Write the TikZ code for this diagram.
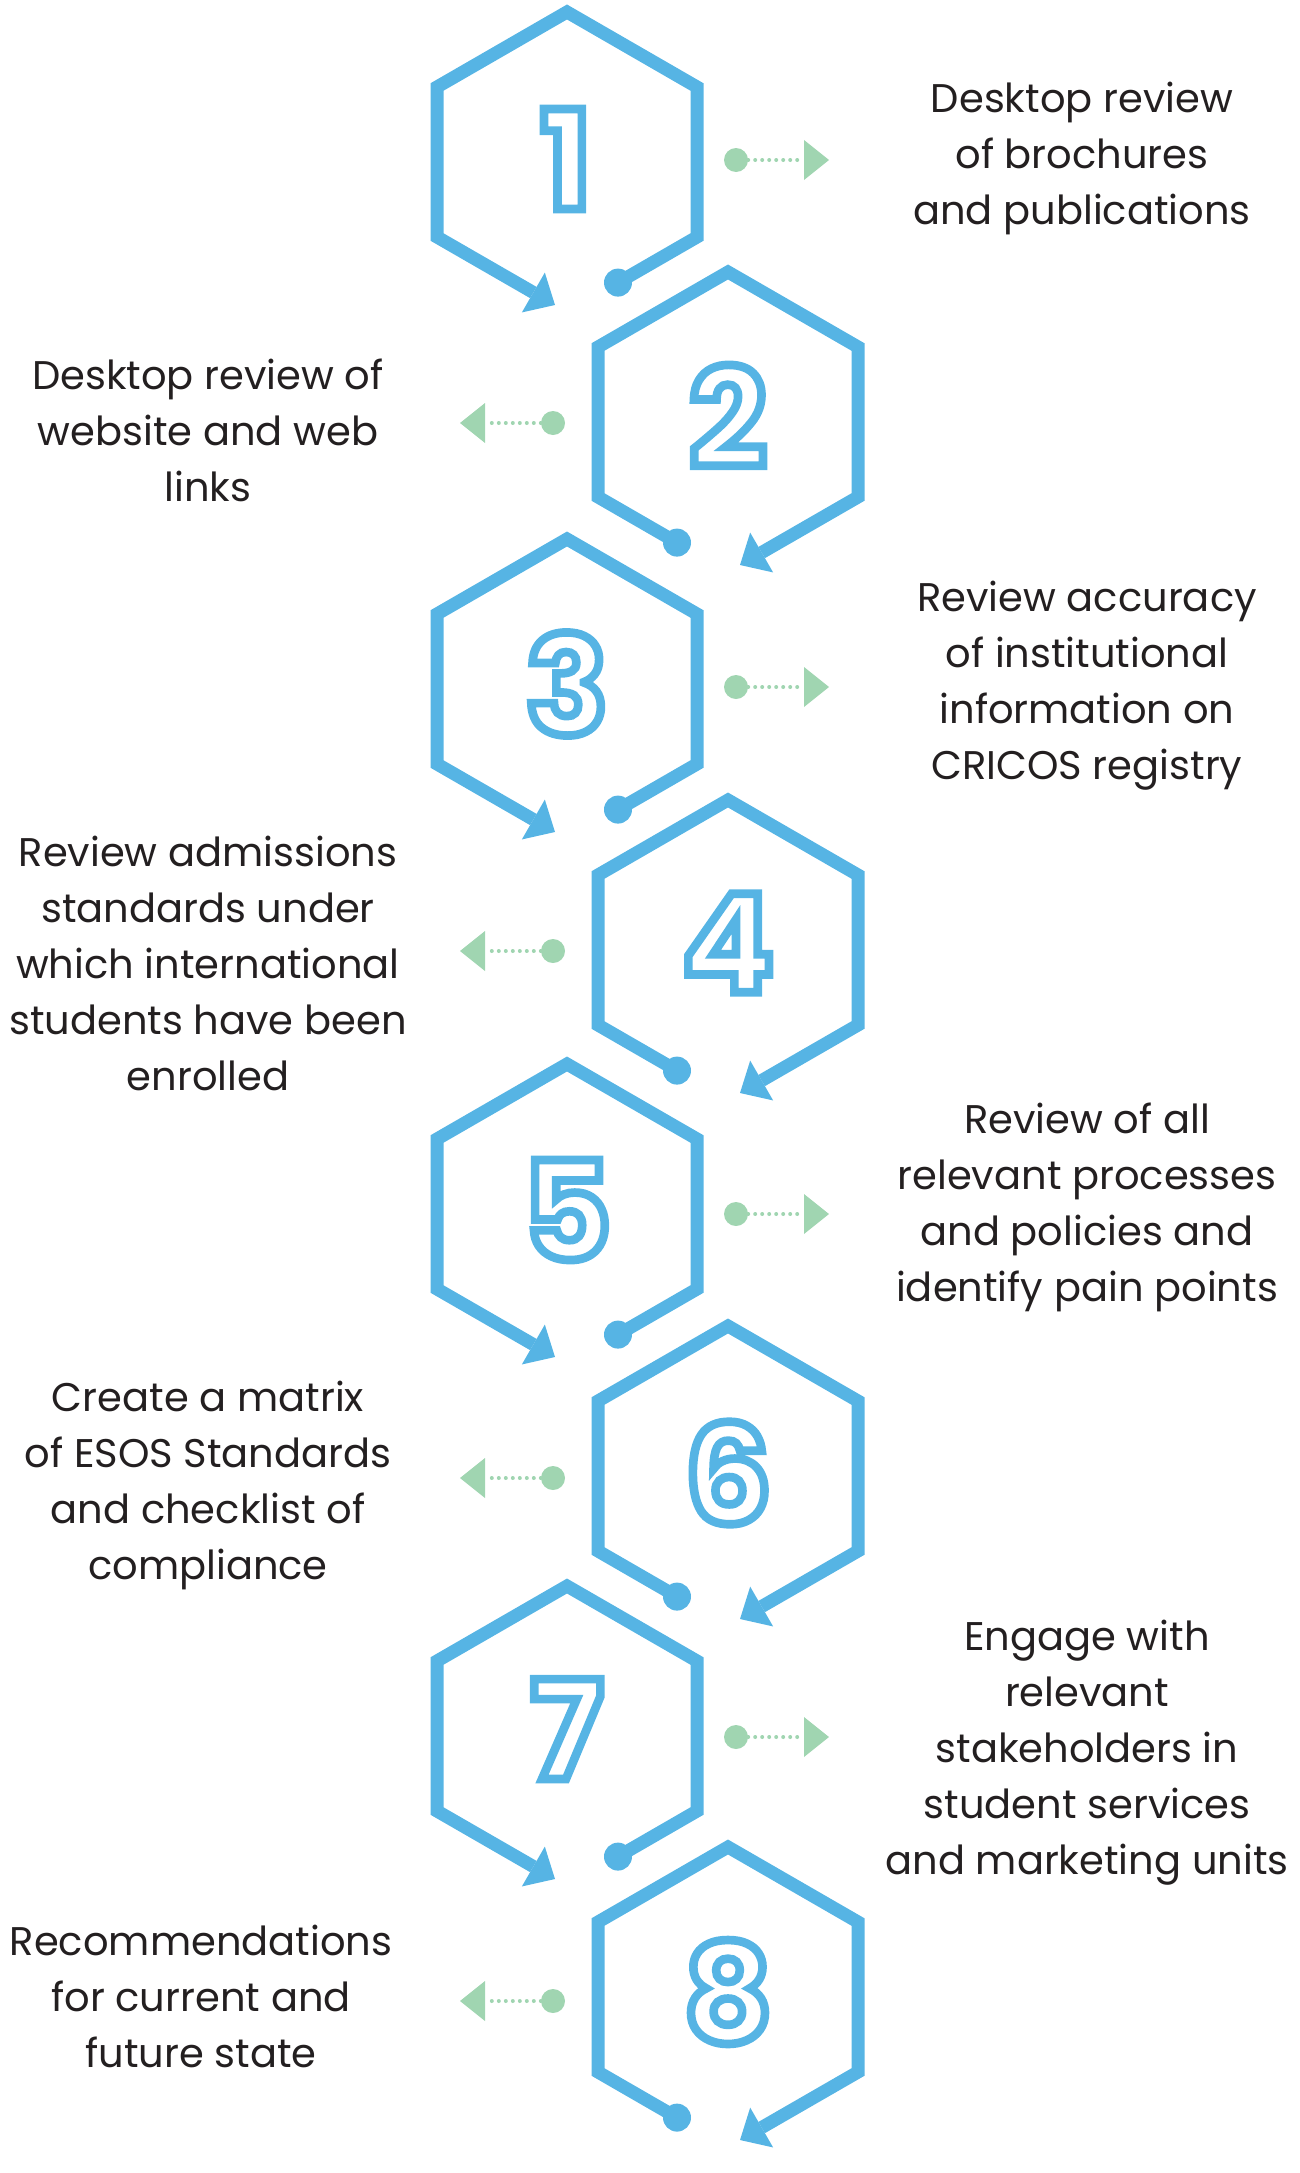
\documentclass[tikz,border=0pt]{standalone}
\usepackage{fontspec}
\setmainfont{Poppins}
\newfontfamily\digitfont{Poppins}[BoldFeatures={FakeBold=6.3}]
\usetikzlibrary{arrows.meta}
\definecolor{hexblue}{HTML}{56B4E4}
\definecolor{stepgreen}{HTML}{A0D5B1}
\definecolor{textdark}{HTML}{231F20}
% blue stroke round the white digits
\newcommand\outlinedigit[1]{\special{pdf:literal direct 0.337 0.706 0.894 RG}#1}

\tikzset{
  hexline/.style={draw=hexblue, line width=13pt, -{Triangle[length=25pt,width=46pt,line width=0pt]}},
  stephex/.pic={
    \draw[hexline] (51,120.6) -- (130,75) -- (130,-75) -- (0,-150) -- (-130,-75) -- (-130,75) -- (-12,143);
    \fill[hexblue] (51,120.6) circle (14);
  },
  numlabel/.style={inner sep=0pt, text=white, font=\digitfont\bfseries\fontsize{137}{137}\selectfont},
  steptext/.style={inner sep=0pt, align=center, text=textdark, font=\fontsize{40}{56}\selectfont},
  greendot/.style={circle, fill=stepgreen, minimum size=24pt, inner sep=0pt},
  greenarrow/.style={draw=stepgreen, line width=4pt, line cap=round, dash pattern=on 0pt off 7pt, -{Triangle[length=25pt,width=40pt,line width=0pt]}}
}

\begin{document}
\begin{tikzpicture}[x=1pt,y=-1pt]
    \useasboundingbox (0,0) rectangle (1300,2173); % Fixes the page size...

    \pic at (567,162) {stephex};
    \pic[xscale=-1] at (728,422) {stephex};
    \pic at (567,689) {stephex};
    \pic[xscale=-1] at (728,950) {stephex};
    \pic at (567,1214) {stephex};
    \pic[xscale=-1] at (728,1476) {stephex};
    \pic at (567,1736) {stephex};
    \pic[xscale=-1] at (728,1997) {stephex};

    \node[numlabel] (n1) at (566,159) {\outlinedigit{1}};
    \node[numlabel] (n2) at (728,416) {\outlinedigit{2}};
    \node[numlabel] (n3) at (567,684) {\outlinedigit{3}};
    \node[numlabel] (n4) at (728,943) {\outlinedigit{4}};
    \node[numlabel] (n5) at (567,1210) {\outlinedigit{5}};
    \node[numlabel] (n6) at (728,1473) {\outlinedigit{6}};
    \node[numlabel] (n7) at (567,1729) {\outlinedigit{7}};
    \node[numlabel] (n8) at (728,1992) {\outlinedigit{8}};

    \node[greendot] (g1) at (736,160) {};
    \node[greendot] (g2) at (553,423) {};
    \node[greendot] (g3) at (736,687) {};
    \node[greendot] (g4) at (553,951) {};
    \node[greendot] (g5) at (736,1214) {};
    \node[greendot] (g6) at (553,1478) {};
    \node[greendot] (g7) at (736,1737) {};
    \node[greendot] (g8) at (553,2001) {};
    \coordinate (a1) at (829,160);
    \coordinate (a2) at (460,423);
    \coordinate (a3) at (829,687);
    \coordinate (a4) at (460,951);
    \coordinate (a5) at (829,1214);
    \coordinate (a6) at (460,1478);
    \coordinate (a7) at (829,1737);
    \coordinate (a8) at (460,2001);
    \draw[greenarrow] (g1) -- (a1);
    \draw[greenarrow] (g2) -- (a2);
    \draw[greenarrow] (g3) -- (a3);
    \draw[greenarrow] (g4) -- (a4);
    \draw[greenarrow] (g5) -- (a5);
    \draw[greenarrow] (g6) -- (a6);
    \draw[greenarrow] (g7) -- (a7);
    \draw[greenarrow] (g8) -- (a8);

    \node[steptext] (t1) at (1082,158) {Desktop review\\of brochures\\and publications};
    \node[steptext] (t2) at (208,430) {Desktop review of\\website and web\\links};
    \node[steptext] (t3) at (1087,686) {Review accuracy\\of institutional\\information on\\CRICOS registry};
    \node[steptext] (t4) at (208,963) {Review admissions\\standards under\\which international\\students have been\\enrolled};
    \node[steptext] (t5) at (1087,1207) {Review of all\\relevant processes\\and policies and\\identify pain points};
    \node[steptext] (t6) at (208,1485) {Create a matrix\\of ESOS Standards\\and checklist of\\compliance};
    \node[steptext] (t7) at (1087,1753) {Engage with\\relevant\\stakeholders in\\student services\\and marketing units};
    \node[steptext] (t8) at (201,1996) {Recommendations\\for current and\\future state};
  \end{tikzpicture}
\end{document}
